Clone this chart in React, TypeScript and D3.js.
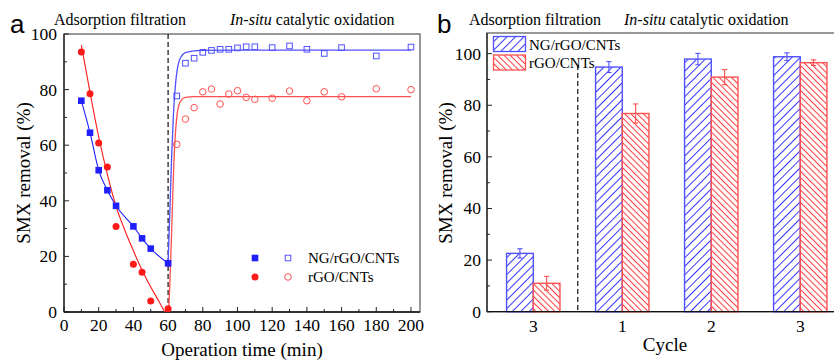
import React, { useRef, useEffect } from 'react';
import * as d3 from 'd3';

const W = 834;
const H = 360;

// panel a — adsorption filtration (filled markers)
const adsTime = [10, 15, 20, 25, 30, 40, 45, 50, 60];
const adsNG = [76, 64.5, 51, 43.8, 38.2, 30.8, 26.5, 22.8, 17.5];
const adsRGO = [93.5, 78.5, 60.8, 52.2, 30.8, 17.2, 14.3, 4, 1.2];

// panel a — in-situ catalytic oxidation (open markers)
const catTime = [65, 70, 75, 80, 85, 90, 95, 100, 105, 110, 120, 130, 140, 150, 160, 180, 200];
const catNG = [77.7, 89.5, 91.3, 93.4, 94.1, 94.5, 94.5, 95, 95.4, 95.4, 95.1, 95.7, 94.5, 93, 95.1, 92.1, 95.3];
const catRGO = [60.3, 69.4, 73.5, 79.2, 80.2, 74.8, 78.4, 79.6, 77.2, 76.5, 76.9, 79.5, 76, 79.2, 77.4, 80.3, 80];

// fitted curves
const fitRGOAdsT = [10, 15, 20, 25, 30, 35, 40, 45, 50, 55, 58];
const fitRGOAdsV = [96, 79, 63, 49.5, 38, 29.5, 22, 15, 9, 3.5, 0];
const fitNGCatT = [60, 61, 62, 63, 64, 65, 66, 68, 70, 75, 80, 100, 200];
const fitNGCatV = [17.5, 36, 55, 70, 80, 86, 89.5, 92.3, 93.3, 93.9, 94.1, 94.2, 94.2];
const fitRGOCatT = [60.3, 61, 62, 63, 64, 65, 66, 68, 70, 75, 200];
const fitRGOCatV = [0, 10, 28, 48, 62, 70, 74, 76.5, 77.2, 77.5, 77.5];

// panel b — bars
const cycles = ['3', '1', '2', '3'];
const barNG = [22.6, 94.8, 97.9, 98.8];
const barNGErr = [1.8, 2.1, 2.2, 1.5];
const barRGO = [11, 76.8, 90.9, 96.5];
const barRGOErr = [2.7, 3.7, 2.9, 1.1];

const BLUE = '#1f1fff';
const RED = '#ff1a1a';
const BLUE_L = '#5050ff';
const RED_L = '#ff5050';
const BLUE_H = '#3535ff';
const RED_H = '#ff3535';
const SERIF = '"Liberation Serif", "Times New Roman", serif';
const SANS = '"Liberation Sans", Arial, sans-serif';

export default function App() {
  const svgRef = useRef<SVGSVGElement>(null);

  useEffect(() => {
    const svg = d3.select(svgRef.current);
    svg.selectAll('*').remove();
    svg.attr('width', W).attr('height', H).attr('viewBox', `0 0 ${W} ${H}`);

    const defs = svg.append('defs');
    const hatch = (id: string, color: string, angle: number, gap: number) => {
      const p = defs.append('pattern')
        .attr('id', id)
        .attr('patternUnits', 'userSpaceOnUse')
        .attr('width', gap)
        .attr('height', gap)
        .attr('patternTransform', `rotate(${angle})`);
      p.append('line')
        .attr('x1', 0.5).attr('y1', 0).attr('x2', 0.5).attr('y2', gap)
        .attr('stroke', color).attr('stroke-width', 1);
    };
    hatch('hatchBlue', BLUE_H, 45, 6);
    hatch('hatchRed', RED_H, -45, 4.4);

    // ---------- panel a ----------
    const xa = d3.scaleLinear().domain([0, 205.2]).range([64, 420]);
    const ya = d3.scaleLinear().domain([0, 100]).range([312, 34]);
    const ga = svg.append('g');

    // frame
    ga.append('rect')
      .attr('x', 64).attr('y', 34).attr('width', 356).attr('height', 278)
      .attr('fill', 'none').attr('stroke', '#555').attr('stroke-width', 1.2);

    // ticks (inward)
    d3.range(0, 201, 10).forEach(v => {
      const major = v % 20 === 0;
      ga.append('line')
        .attr('x1', xa(v)).attr('x2', xa(v))
        .attr('y1', 312).attr('y2', 312 - (major ? 5 : 3))
        .attr('stroke', '#222').attr('stroke-width', 1);
      if (major) {
        ga.append('text')
          .attr('x', xa(v)).attr('y', 331)
          .attr('text-anchor', 'middle')
          .attr('font-family', SERIF).attr('font-size', 17.5)
          .text(v);
      }
    });
    d3.range(0, 101, 10).forEach(v => {
      const major = v % 20 === 0;
      ga.append('line')
        .attr('x1', 64).attr('x2', 64 + (major ? 5 : 3))
        .attr('y1', ya(v)).attr('y2', ya(v))
        .attr('stroke', '#222').attr('stroke-width', 1);
      if (major) {
        ga.append('text')
          .attr('x', 57).attr('y', ya(v) + 6)
          .attr('text-anchor', 'end')
          .attr('font-family', SERIF).attr('font-size', 17.5)
          .text(v);
      }
    });
    // axis lines
    ga.append('line').attr('x1', 64).attr('x2', 420).attr('y1', 312).attr('y2', 312)
      .attr('stroke', '#111').attr('stroke-width', 1.3);
    ga.append('line').attr('x1', 64).attr('x2', 64).attr('y1', 34).attr('y2', 312)
      .attr('stroke', '#222').attr('stroke-width', 1.3);

    // dashed separator
    ga.append('line')
      .attr('x1', xa(60)).attr('x2', xa(60)).attr('y1', 34).attr('y2', 312)
      .attr('stroke', '#111').attr('stroke-width', 1.2).attr('stroke-dasharray', '5,3');

    const line = d3.line<[number, number]>()
      .x(d => xa(d[0])).y(d => ya(d[1]))
      .curve(d3.curveMonotoneX);
    const zip = (a: number[], b: number[]) => a.map((v, i) => [v, b[i]] as [number, number]);

    ga.append('path').attr('d', line(zip(adsTime, adsNG)))
      .attr('fill', 'none').attr('stroke', BLUE).attr('stroke-width', 1.1);
    ga.append('path').attr('d', line(zip(fitRGOAdsT, fitRGOAdsV)))
      .attr('fill', 'none').attr('stroke', RED).attr('stroke-width', 1.1);
    ga.append('path').attr('d', line(zip(fitNGCatT, fitNGCatV)))
      .attr('fill', 'none').attr('stroke', BLUE_L).attr('stroke-width', 1.3);
    ga.append('path').attr('d', line(zip(fitRGOCatT, fitRGOCatV)))
      .attr('fill', 'none').attr('stroke', RED_L).attr('stroke-width', 1.3);

    // markers
    ga.selectAll('.sqf').data(zip(adsTime, adsNG)).enter().append('rect')
      .attr('x', d => xa(d[0]) - 3.3).attr('y', d => ya(d[1]) - 3.3)
      .attr('width', 6.6).attr('height', 6.6).attr('fill', BLUE);
    ga.selectAll('.cif').data(zip(adsTime, adsRGO)).enter().append('circle')
      .attr('cx', d => xa(d[0])).attr('cy', d => ya(d[1])).attr('r', 3.5).attr('fill', RED);
    ga.selectAll('.sqo').data(zip(catTime, catNG)).enter().append('rect')
      .attr('x', d => xa(d[0]) - 2.8).attr('y', d => ya(d[1]) - 2.8)
      .attr('width', 5.6).attr('height', 5.6)
      .attr('fill', 'none').attr('stroke', BLUE_L).attr('stroke-width', 1);
    ga.selectAll('.cio').data(zip(catTime, catRGO)).enter().append('circle')
      .attr('cx', d => xa(d[0])).attr('cy', d => ya(d[1])).attr('r', 3.3)
      .attr('fill', 'none').attr('stroke', RED_L).attr('stroke-width', 1);

    // legend a
    ga.append('rect').attr('x', 251.7).attr('y', 254.7).attr('width', 6.6).attr('height', 6.6).attr('fill', BLUE);
    ga.append('rect').attr('x', 285.2).attr('y', 255.2).attr('width', 5.6).attr('height', 5.6)
      .attr('fill', 'none').attr('stroke', BLUE_L);
    ga.append('text').attr('x', 308).attr('y', 263).attr('font-family', SERIF).attr('font-size', 15)
      .text('NG/rGO/CNTs');
    ga.append('circle').attr('cx', 255).attr('cy', 277).attr('r', 3.5).attr('fill', RED);
    ga.append('circle').attr('cx', 288).attr('cy', 277).attr('r', 3.3)
      .attr('fill', 'none').attr('stroke', RED_L);
    ga.append('text').attr('x', 308).attr('y', 282).attr('font-family', SERIF).attr('font-size', 15)
      .text('rGO/CNTs');

    // labels a
    ga.append('text').attr('x', 242).attr('y', 356).attr('text-anchor', 'middle')
      .attr('font-family', SERIF).attr('font-size', 19).text('Operation time (min)');
    ga.append('text').attr('transform', 'translate(30,173) rotate(-90)').attr('text-anchor', 'middle')
      .attr('font-family', SERIF).attr('font-size', 19).text('SMX removal (%)');
    ga.append('text').attr('x', 10).attr('y', 32.5)
      .attr('font-family', SANS).attr('font-size', 26).text('a');
    ga.append('text').attr('x', 54).attr('y', 24.5)
      .attr('font-family', SERIF).attr('font-size', 16).text('Adsorption filtration');
    const ta = ga.append('text').attr('x', 230).attr('y', 24.5)
      .attr('font-family', SERIF).attr('font-size', 16);
    ta.append('tspan').attr('font-style', 'italic').text('In-situ');
    ta.append('tspan').text(' catalytic oxidation');

    // ---------- panel b ----------
    const xb = d3.scaleLinear().domain([-0.52, 3.45]).range([487, 840.3]);
    const yb = d3.scaleLinear().domain([0, 108]).range([311.7, 33]);
    const gb = svg.append('g');
    const bw = (xb(1) - xb(0)) * 0.3;

    gb.append('rect')
      .attr('x', 487).attr('y', 33).attr('width', 353).attr('height', 278.7)
      .attr('fill', 'none').attr('stroke', '#555').attr('stroke-width', 1.2);

    d3.range(0, 101, 10).forEach(v => {
      const major = v % 20 === 0;
      gb.append('line')
        .attr('x1', 487).attr('x2', 487 + (major ? 5 : 3))
        .attr('y1', yb(v)).attr('y2', yb(v))
        .attr('stroke', '#222').attr('stroke-width', 1);
      if (major) {
        gb.append('text')
          .attr('x', 481).attr('y', yb(v) + 6)
          .attr('text-anchor', 'end')
          .attr('font-family', SERIF).attr('font-size', 17.5)
          .text(v);
      }
    });
    cycles.forEach((c, i) => {
      gb.append('text')
        .attr('x', xb(i)).attr('y', 332)
        .attr('text-anchor', 'middle')
        .attr('font-family', SERIF).attr('font-size', 17.5)
        .text(c);
    });

    // dashed separator
    gb.append('line')
      .attr('x1', xb(0.5)).attr('x2', xb(0.5)).attr('y1', 65).attr('y2', 311.7)
      .attr('stroke', '#111').attr('stroke-width', 1.2).attr('stroke-dasharray', '5,3');

    const drawBars = (vals: number[], errs: number[], off: number, fill: string, color: string) => {
      vals.forEach((v, i) => {
        const x0 = xb(i) + off;
        gb.append('rect')
          .attr('x', x0).attr('y', yb(v)).attr('width', bw).attr('height', yb(0) - yb(v))
          .attr('fill', `url(#${fill})`).attr('stroke', color).attr('stroke-width', 1.4);
        const cx = x0 + bw / 2;
        const e = gb.append('g').attr('stroke', color).attr('stroke-width', 1.1);
        e.append('line').attr('x1', cx).attr('x2', cx).attr('y1', yb(v + errs[i])).attr('y2', yb(v - errs[i]));
        e.append('line').attr('x1', cx - 2.6).attr('x2', cx + 2.6).attr('y1', yb(v + errs[i])).attr('y2', yb(v + errs[i]));
        e.append('line').attr('x1', cx - 2.6).attr('x2', cx + 2.6).attr('y1', yb(v - errs[i])).attr('y2', yb(v - errs[i]));
      });
    };
    drawBars(barNG, barNGErr, -bw, 'hatchBlue', BLUE_L);
    drawBars(barRGO, barRGOErr, 0, 'hatchRed', RED_L);

    gb.append('line').attr('x1', 487).attr('x2', 840).attr('y1', 311.7).attr('y2', 311.7)
      .attr('stroke', '#111').attr('stroke-width', 1.3);
    gb.append('line').attr('x1', 487).attr('x2', 487).attr('y1', 33).attr('y2', 311.7)
      .attr('stroke', '#222').attr('stroke-width', 1.3);

    // legend b
    gb.append('rect').attr('x', 493.5).attr('y', 36.5).attr('width', 32).attr('height', 15)
      .attr('fill', 'url(#hatchBlue)').attr('stroke', BLUE_L).attr('stroke-width', 1.3);
    gb.append('text').attr('x', 529).attr('y', 49.5).attr('font-family', SERIF).attr('font-size', 15)
      .text('NG/rGO/CNTs');
    gb.append('rect').attr('x', 493.5).attr('y', 55).attr('width', 32).attr('height', 15)
      .attr('fill', 'url(#hatchRed)').attr('stroke', RED_L).attr('stroke-width', 1.3);
    gb.append('text').attr('x', 529).attr('y', 68).attr('font-family', SERIF).attr('font-size', 15)
      .text('rGO/CNTs');

    // labels b
    gb.append('text').attr('x', 665).attr('y', 351).attr('text-anchor', 'middle')
      .attr('font-family', SERIF).attr('font-size', 19).text('Cycle');
    gb.append('text').attr('transform', 'translate(452,173) rotate(-90)').attr('text-anchor', 'middle')
      .attr('font-family', SERIF).attr('font-size', 19).text('SMX removal (%)');
    gb.append('text').attr('x', 437).attr('y', 32.5)
      .attr('font-family', SANS).attr('font-size', 26).text('b');
    gb.append('text').attr('x', 469).attr('y', 24.5)
      .attr('font-family', SERIF).attr('font-size', 16).text('Adsorption filtration');
    const tb = gb.append('text').attr('x', 624).attr('y', 24.5)
      .attr('font-family', SERIF).attr('font-size', 16);
    tb.append('tspan').attr('font-style', 'italic').text('In-situ');
    tb.append('tspan').text(' catalytic oxidation');
  }, []);

  return (
    <div style={{ position: 'absolute', left: 0, top: 0, width: W, height: H, background: '#fff', overflow: 'hidden' }}>
      <svg ref={svgRef} style={{ display: 'block' }} />
    </div>
  );
}
